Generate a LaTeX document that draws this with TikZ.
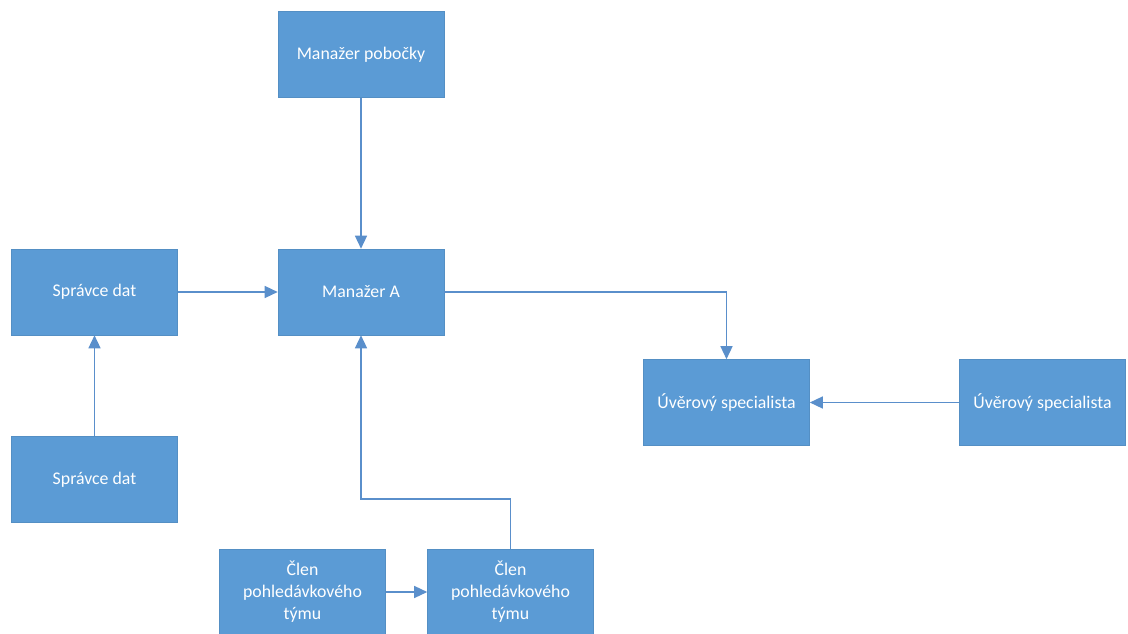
\documentclass[tikz,border=0pt]{standalone}
\usepackage{fontspec}
\setmainfont{Carlito}
\usetikzlibrary{arrows.meta}

\definecolor{boxblue}{HTML}{5B9BD5}
\definecolor{lineblue}{HTML}{5A8FCB}

\tikzset{every node/.style={font=\fontsize{17.8}{22}\selectfont,text=white},
         role/.style={rectangle,fill=boxblue,draw=boxblue!92!black,line width=0.6pt,
                      minimum width=166pt,minimum height=86pt,align=center,inner sep=2pt},
         link/.style={draw=lineblue,line width=1.4pt,-{Triangle[length=13pt,width=12pt]}}}
\newcommand{\rolebox}[4][]{\node[role,#1] at (#2) (#3) {#4}}

\begin{document}
\begin{tikzpicture}[x=1pt,y=-1pt]
  \useasboundingbox (0,0) rectangle (1128,634);

  \rolebox{361,54.5}{pob}{Manažer pobočky};
  \rolebox{94.5,292}{sd1}{Správce dat};
  \rolebox{361,292}{ma}{Manažer A};
  \rolebox{94.5,479.5}{sd2}{Správce dat};
  \rolebox{726.5,402.5}{uv1}{Úvěrový specialista};
  \rolebox{1042.5,402.5}{uv2}{Úvěrový specialista};
  \rolebox{302.5,592}{cl1}{Člen\\pohledávkového\\týmu};
  \rolebox{510.5,592}{cl2}{Člen\\pohledávkového\\týmu};

  \coordinate (turn) at (436,499);

  \draw[link] (pob) -- (ma);
  \draw[link] (sd1) -- (ma);
  \draw[link] (sd2) -- (sd1);
  \draw[link] (ma.east) -| (uv1.north);
  \draw[link] (uv2) -- (uv1);
  \draw[link] (cl1) -- (cl2);
  \draw[link] (cl2.north) |- (turn) -| (ma.south);
\end{tikzpicture}
\end{document}
